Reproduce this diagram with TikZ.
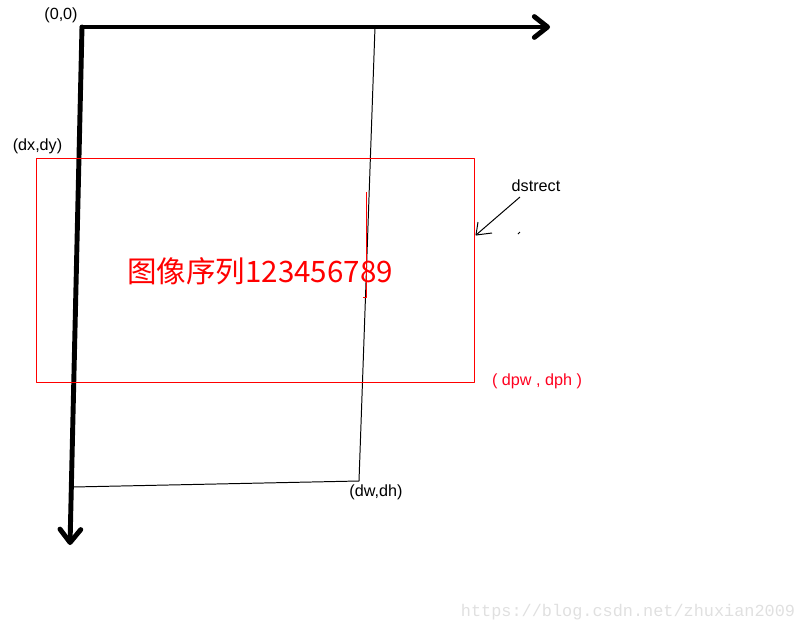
\documentclass[tikz,border=0pt]{standalone}
\usepackage{fontspec}
\setmainfont{Liberation Sans}
\setmonofont{Liberation Mono}
\newfontfamily\cjk{Noto Sans CJK SC}
\usetikzlibrary{arrows.meta}

\begin{document}
\begin{tikzpicture}[x=0.025cm,y=-0.025cm,line join=round,
    axis/.style={line width=3.5pt,line cap=round,-{Straight Barb[length=3.3mm,width=5.2mm,round]}},
    edgeline/.style={line width=0.7pt},
    rectline/.style={line width=0.7pt,draw=red},
    coordlabel/.style={font=\fontsize{11.5}{13}\selectfont}]

    \useasboundingbox (0,0) rectangle (804,633);

    \colorlet{dimcolor}{red!88!magenta}
    \colorlet{markcolor}{black!12}

    % Axes
    \coordinate (O) at (82,27);
    \coordinate (xend) at (550,27);
    \coordinate (yend) at (70,545);
    \draw[axis] (O) -- (xend);
    \draw[axis] (O) -- (yend);
    \node[coordlabel] (origin) at (61,15) {(0,0)};

    % Source image
    \coordinate (tr) at (375,27);
    \coordinate (br) at (359,481);
    \coordinate (bl) at (73,487);
    \draw[edgeline] (O) -- (tr) -- (br) -- (bl);
    \node[coordlabel] (dwdh) at (376,492) {(dw,dh)};

    % Destination rectangle
    \coordinate (dxdy) at (36,158);
    \coordinate (dpwdph) at (474,382);
    \draw[rectline] (dxdy) rectangle (dpwdph);
    \draw[rectline] (366,192) -- (366,297) -- (363,297);
    \node[coordlabel] (dxdylabel) at (37.5,146) {(dx,dy)};
    \node[coordlabel,text=dimcolor] (dpwlabel) at (537,381) {( dpw , dph )};
    \node[text=red,font=\cjk\fontsize{21}{21}\selectfont] (seq) at (260,271) {图像序列123456789};

    % Pointer to the rectangle
    \node[coordlabel] (dstrect) at (536,186) {dstrect};
    \coordinate (tail) at (520,197);
    \coordinate (tip) at (476,235);
    \draw[edgeline] (tail) -- (tip);
    \draw[edgeline] (478,222) -- (tip) -- (492,233);
    \draw[edgeline] (518,234) -- (520,232);

    % Watermark
    \node[text=markcolor,font=\ttfamily\fontsize{12}{12}\selectfont] (mark) at (628,612) {https://blog.csdn.net/zhuxian2009};

\end{tikzpicture}
\end{document}
